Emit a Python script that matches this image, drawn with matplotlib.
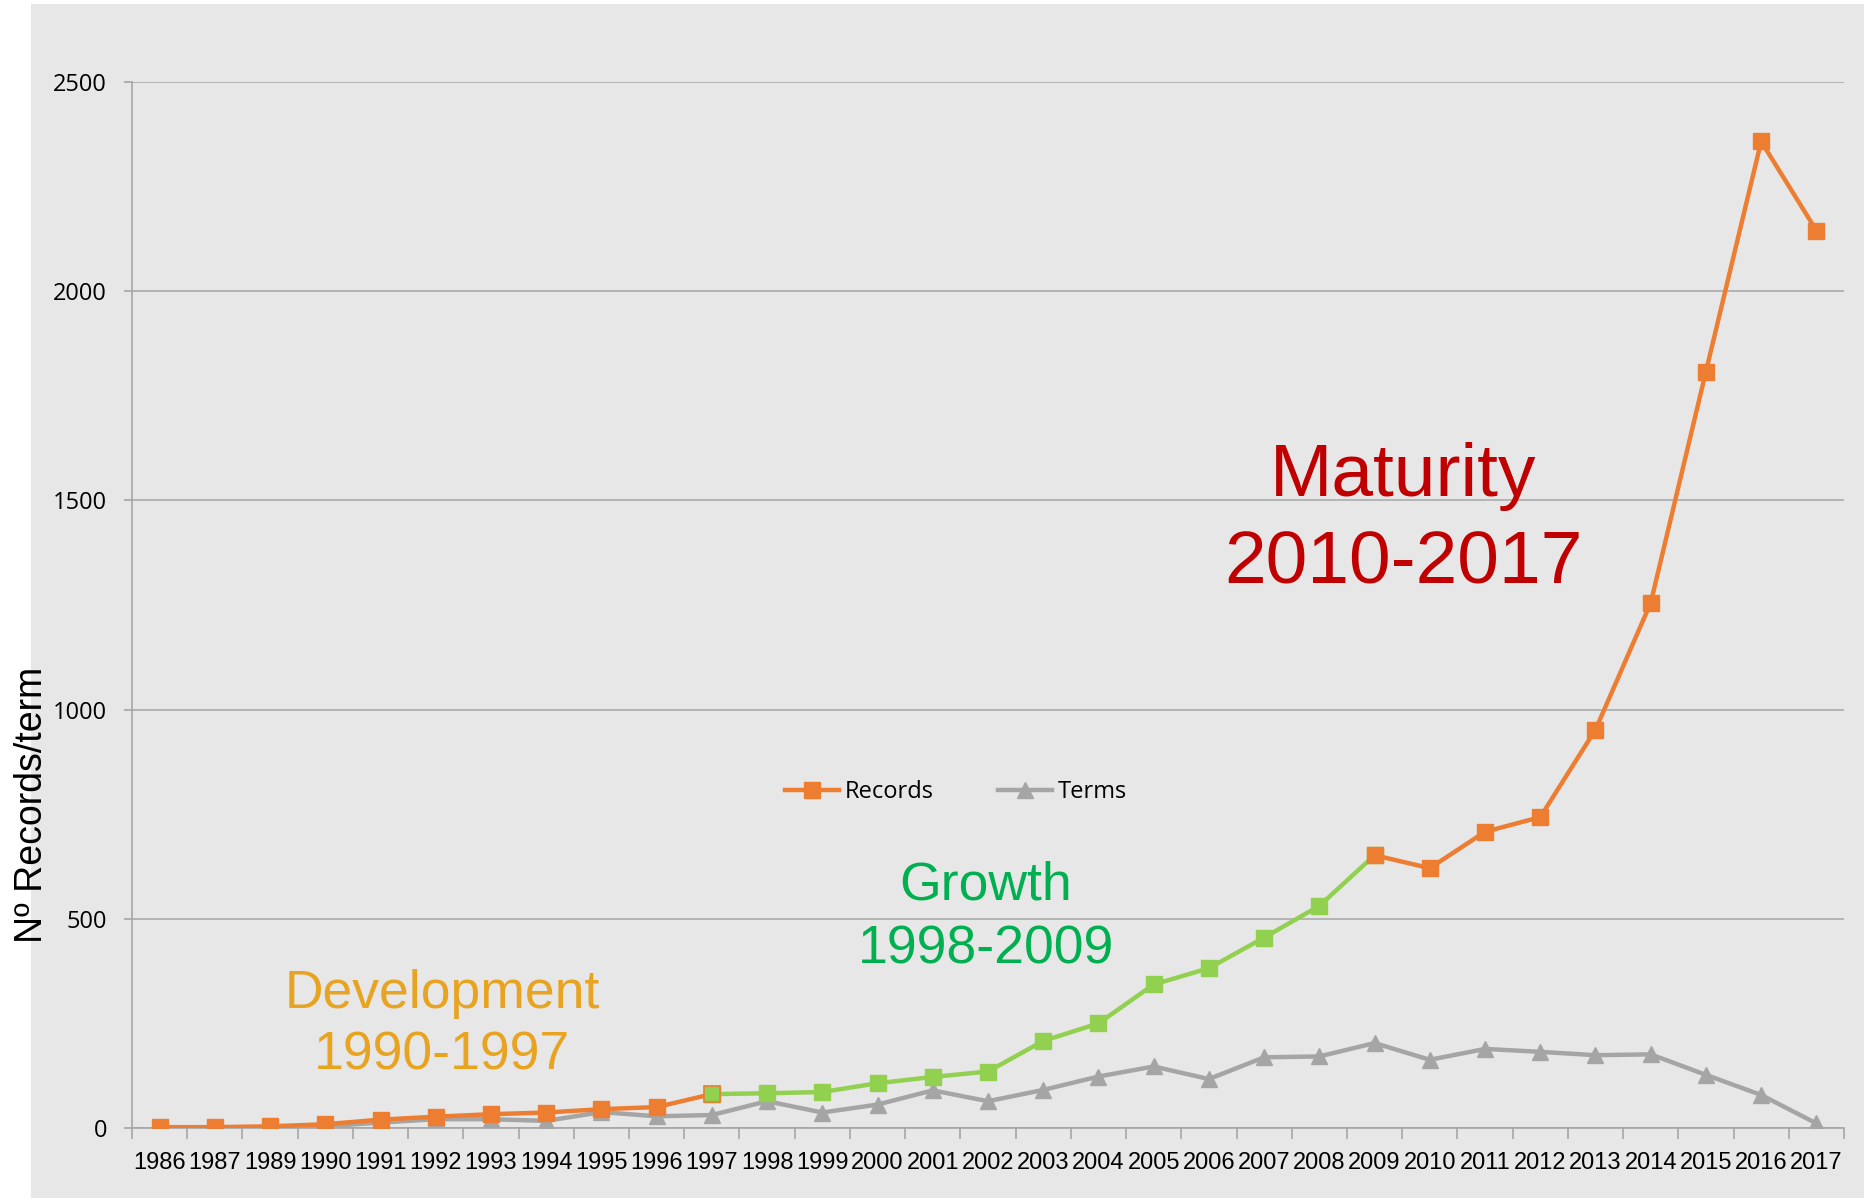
import numpy as np
import matplotlib
matplotlib.use("Agg")
import matplotlib.pyplot as plt
from matplotlib.lines import Line2D
from matplotlib.patches import Rectangle

# yearly counts (1988 has no entry)
years = ["1986", "1987", "1989"] + [str(y) for y in range(1990, 2018)]
records = [2, 2, 4, 9, 20, 27, 33, 37, 45, 50, 81,
           83, 86, 107, 122, 135, 208, 250, 343, 382, 455, 531, 652,
           621, 708, 743, 952, 1255, 1808, 2358, 2145]
terms = [0, 0, 0, 4, 13, 21, 21, 17, 38, 28, 31,
         64, 37, 56, 90, 64, 91, 123, 147, 117, 169, 171, 203,
         163, 189, 182, 174, 176, 127, 79, 11]

# phase boundaries as indices into years
i_growth = years.index("1997")
i_mature = years.index("2009")

ORANGE = "#ed7d31"
GREEN = "#92d050"
GREY = "#a5a5a5"
BG = "#e7e7e7"
W, H = 1864, 1204

fig = plt.figure(figsize=(W / 100, H / 100), dpi=100)
fig.patch.set_facecolor("white")
fig.patches.append(Rectangle((31 / W, 6 / H), 1 - 31 / W, 1 - 10 / H,
                             transform=fig.transFigure, facecolor=BG,
                             edgecolor="none", zorder=-5))

ax = fig.add_axes([132 / W, 1 - 1128 / H, (1844 - 132) / W, (1128 - 82) / H])
ax.set_facecolor(BG)
ax.set_zorder(1)

x = np.arange(len(years))
lw, ms = 3.2, 11

ax.plot(x, terms, color=GREY, lw=lw, marker="^", ms=ms, zorder=2)
ax.plot(x[:i_growth + 1], records[:i_growth + 1], color=ORANGE, lw=lw,
        marker="s", ms=ms, zorder=3)
ax.plot(x[i_growth:i_mature + 1], records[i_growth:i_mature + 1], color=GREEN,
        lw=lw, marker="s", ms=ms, zorder=4)
ax.plot(x[i_growth], records[i_growth], color=GREEN, marker="s", ms=ms,
        mec=ORANGE, mew=1.2, zorder=4)
ax.plot(x[i_mature:], records[i_mature:], color=ORANGE, lw=lw,
        marker="s", ms=ms, zorder=5)

ax.set_xlim(-0.5, len(years) - 0.5)
ax.set_ylim(0, 2500)
ax.set_yticks(np.arange(0, 2501, 500))
ax.yaxis.grid(True, color="#a6a6a6", lw=1.1)
ax.set_axisbelow(True)

for side in ("top", "right"):
    ax.spines[side].set_visible(False)
for side in ("left", "bottom"):
    ax.spines[side].set_color("#a6a6a6")
    ax.spines[side].set_linewidth(1.2)

ax.set_xticks(x)
ax.set_xticklabels(years, family="Liberation Sans", fontsize=17)
ax.set_xticks(np.arange(-0.5, len(years)), minor=True)
ax.tick_params(axis="x", which="major", length=0, pad=17)
ax.tick_params(axis="x", which="minor", length=8, color="#a6a6a6", width=1.2)
ax.tick_params(axis="y", length=6, color="#a6a6a6", width=1.2, pad=12)
for lab in ax.get_yticklabels():
    lab.set_family("Open Sans")
    lab.set_fontsize(17)

ax.set_ylabel("Nº Records/term", family="Liberation Sans", fontsize=27)
ax.yaxis.set_label_coords(-0.048, 0.309)

handles = [Line2D([], [], color=ORANGE, lw=3.2, marker="s", ms=11),
           Line2D([], [], color=GREY, lw=3.2, marker="^", ms=11)]
fig.legend(handles, ["Records", "Terms"], loc="center",
           bbox_to_anchor=(956 / W, 1 - 792 / H), ncol=2, frameon=False,
           prop={"family": "Open Sans", "size": 17}, handlelength=2.3,
           handletextpad=0.25, columnspacing=2.7).set_zorder(6)

# phase annotations
phases = [
    ("Development", "1990-1997", "#e8a320", 442, 1008, 1069, 38.5),
    ("Growth", "1998-2009", "#00b050", 986, 900, 963, 38.5),
    ("Maturity", "2010-2017", "#c00000", 1403, 496, 583, 54),
]
for name, span, col, cx, y1, y2, fs in phases:
    for txt, yy in ((name, y1), (span, y2)):
        fig.text(cx / W, 1 - yy / H, txt, color=col, fontsize=fs,
                 family="Liberation Sans", ha="center", va="baseline",
                 zorder=6)

fig.savefig("out.png", dpi=100, facecolor=fig.get_facecolor())
